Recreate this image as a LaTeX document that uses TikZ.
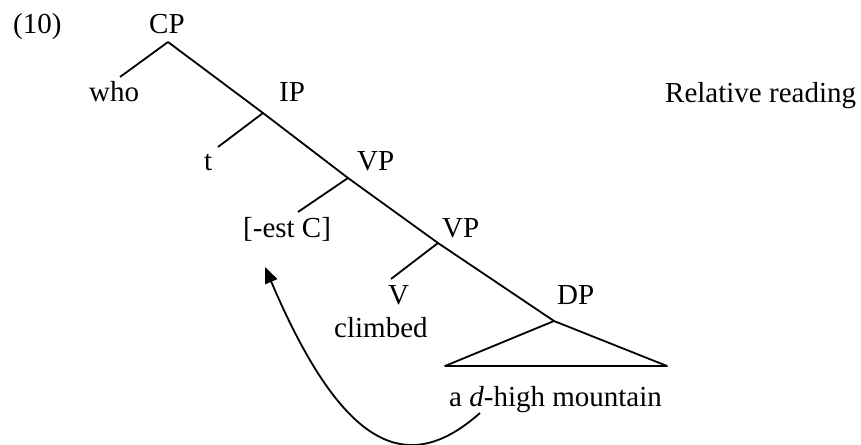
\documentclass[tikz,border=0pt]{standalone}
\usepackage{fontspec}
\setmainfont{Liberation Serif}
\usetikzlibrary{arrows.meta,calc,positioning}

\begin{document}
\begin{tikzpicture}[x=1pt,y=-1pt]
\tikzstyle{lbl}=[anchor=base west, inner sep=0pt, font=\fontsize{29}{34}\selectfont]
\tikzstyle{branch}=[line width=1.8pt, line join=round]
\tikzstyle{move}=[line width=1.8pt, -{Triangle[length=16pt,width=13pt]}]

\useasboundingbox (0,0) rectangle (861,444);

  \node[lbl] (num)   at (13,34)   {(10)};
  \node[lbl] (CP)    at (149,34)  {CP};
  \node[lbl] (who)   at (89,101)  {who};
  \node[lbl] (IP)    at (279,101) {IP};
  \node[lbl] (rel)   at (665,102) {Relative reading};
  \node[lbl] (t)     at (204,170) {t};
  \node[lbl] (VPa)   at (357,170) {VP};
  \node[lbl] (est)   at (243,237) {[-est C]};
  \node[lbl] (VPb)   at (442,237) {VP};
  \node[lbl] (V)     at (388,304) {V};
  \node[lbl] (DP)    at (557,304) {DP};
  \node[lbl] (climb) at (334,337) {climbed};
  \node[lbl] (mtn)   at (449,406) {a \textit{d}-high mountain};

  \coordinate (CPj)   at (168,42);
  \coordinate (whoj)  at (120,77);
  \coordinate (IPj)   at (263,113);
  \coordinate (tj)    at (218,147);
  \coordinate (VPaj)  at (348,178);
  \coordinate (estj)  at (298,212);
  \coordinate (VPbj)  at (438,243);
  \coordinate (Vj)    at (391,279);
  \coordinate (DPj)   at (554,321);
  \coordinate (DPl)   at (445,366);
  \coordinate (DPr)   at (667,366);
  \coordinate (gap)   at (480,413);
  \coordinate (land)  at (265,267);

  \draw[branch] (CPj) -- (whoj);
  \draw[branch] (CPj) -- (IPj) -- (VPaj) -- (VPbj) -- (DPj);
  \draw[branch] (IPj) -- (tj);
  \draw[branch] (VPaj) -- (estj);
  \draw[branch] (VPbj) -- (Vj);
  \draw[branch] (DPj) -- (DPl) -- (DPr) -- cycle;

  \draw[move] (gap) .. controls (410,475) and (345,455) .. (land);

\end{tikzpicture}
\end{document}
